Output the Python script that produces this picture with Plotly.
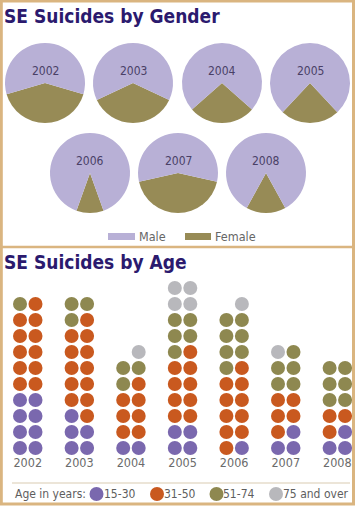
import plotly.graph_objects as go

W, H = 355, 506

# ---------------- data ----------------
years = ["2002", "2003", "2004", "2005", "2006", "2007", "2008"]
male_pct = [59, 64, 73, 76, 89, 57, 84]
female_pct = [41, 36, 27, 24, 11, 43, 16]

age_groups = ["15-30", "31-50", "51-74", "75 and over"]
# dots per column (left / right), counts per age group [15-30, 31-50, 51-74, 75+]
left_counts = [
    [4, 5, 1, 0],
    [3, 5, 2, 0],
    [1, 3, 2, 0],
    [2, 4, 3, 2],
    [0, 5, 4, 0],
    [1, 3, 2, 1],
    [1, 2, 3, 0],
]
right_counts = [
    [4, 6, 0, 0],
    [2, 7, 1, 0],
    [1, 4, 1, 1],
    [2, 5, 2, 2],
    [1, 5, 3, 1],
    [2, 2, 3, 0],
    [2, 1, 3, 0],
]

# ---------------- styles ----------------
male_color = "#b8b0d6"
female_color = "#978b56"
age_colors = ["#7a68ae", "#c9591f", "#8e8850", "#b8b8bc"]
title_color = "#2b1a6e"
frame_color = "#dab580"
narrow = "Liberation Sans Narrow, Arial Narrow, DejaVu Sans Condensed, sans-serif"


def px(x):
    return x / W


def py(y):
    return 1 - y / H


fig = go.Figure()

# ---------------- pies ----------------
pie_centers = [(45, 83), (133, 83), (222, 83), (310, 83),
               (90, 173), (178, 173), (266, 173)]
R = 40
annotations = []
for i, yr in enumerate(years):
    cx, cy = pie_centers[i]
    f = female_pct[i] / (female_pct[i] + male_pct[i])
    fig.add_trace(go.Pie(
        values=[female_pct[i], male_pct[i]],
        labels=["Female", "Male"],
        marker=dict(colors=[female_color, male_color], line=dict(width=0)),
        sort=False, direction="clockwise", rotation=180 - 180 * f,
        textinfo="none", hoverinfo="label+percent", showlegend=False,
        domain=dict(x=[px(cx - R), px(cx + R)], y=[py(cy + R), py(cy - R)]),
    ))
    annotations.append(dict(
        x=px(cx), y=py(cy - 12), xref="paper", yref="paper",
        text=yr, showarrow=False, xanchor="center", yanchor="middle",
        font=dict(family=narrow, size=12, color="#4a4066")))

# ---------------- dots ----------------
col_off = 0.15
for g, name in enumerate(age_groups):
    xs, ys = [], []
    for i in range(len(years)):
        for side, counts in ((-1, left_counts[i]), (1, right_counts[i])):
            start = sum(counts[:g])
            for r in range(start, start + counts[g]):
                xs.append(i + side * col_off)
                ys.append(r)
    fig.add_trace(go.Scatter(
        x=xs, y=ys, mode="markers", name=name, showlegend=False,
        marker=dict(size=14, color=age_colors[g], line=dict(width=0)),
        hovertemplate=name + "<extra></extra>",
        xaxis="x", yaxis="y", cliponaxis=False))

x_unit = 51.6
x_first = 27.75
y_unit = 16
y_bottom_px = 453
fig.update_layout(
    xaxis=dict(domain=[0, 1],
               range=[-x_first / x_unit, (W - x_first) / x_unit],
               tickmode="array", tickvals=list(range(len(years))), ticktext=years,
               ticks="", showgrid=False, zeroline=False, showline=False,
               tickfont=dict(family=narrow, size=12.5, color="#6b6b6b"),
               anchor="y", fixedrange=True),
    yaxis=dict(domain=[py(y_bottom_px), 1],
               range=[(448 - y_bottom_px) / y_unit, 448 / y_unit],
               showgrid=False, zeroline=False, showline=False,
               showticklabels=False, fixedrange=True),
)

# ---------------- titles ----------------
annotations.append(dict(x=px(2), y=py(3), xref="paper", yref="paper",
                        text="<b>SE Suicides by Gender</b>", showarrow=False,
                        xanchor="left", yanchor="top",
                        font=dict(family=narrow, size=19, color=title_color)))
annotations.append(dict(x=px(2), y=py(249), xref="paper", yref="paper",
                        text="<b>SE Suicides by Age</b>", showarrow=False,
                        xanchor="left", yanchor="top",
                        font=dict(family=narrow, size=19, color=title_color)))

shapes = []
# ---------------- gender legend ----------------
legend_font = dict(family=narrow, size=12.5, color="#666666")
shapes.append(dict(type="rect", xref="paper", yref="paper",
                   x0=px(108), x1=px(135), y0=py(240), y1=py(233),
                   fillcolor=male_color, line=dict(width=0)))
annotations.append(dict(x=px(137), y=py(237), xref="paper", yref="paper",
                        text="Male", showarrow=False, xanchor="left",
                        yanchor="middle", font=legend_font))
shapes.append(dict(type="rect", xref="paper", yref="paper",
                   x0=px(185), x1=px(211), y0=py(240), y1=py(233),
                   fillcolor=female_color, line=dict(width=0)))
annotations.append(dict(x=px(213), y=py(237), xref="paper", yref="paper",
                        text="Female", showarrow=False, xanchor="left",
                        yanchor="middle", font=legend_font))

# ---------------- age legend ----------------
shapes.append(dict(type="line", xref="paper", yref="paper",
                   x0=px(12), x1=px(350), y0=py(483), y1=py(483),
                   line=dict(color="#e6dccb", width=1.5)))
age_font = dict(family=narrow, size=12, color="#5e5e5e")
annotations.append(dict(x=px(13), y=py(494), xref="paper", yref="paper",
                        text="Age in years:", showarrow=False, xanchor="left",
                        yanchor="middle", font=age_font))
legend_dot_x = [96.5, 157, 216.5, 276]
for g, name in enumerate(age_groups):
    cx = legend_dot_x[g]
    shapes.append(dict(type="circle", xref="paper", yref="paper",
                       x0=px(cx - 7), x1=px(cx + 7), y0=py(501), y1=py(487),
                       fillcolor=age_colors[g], line=dict(width=0)))
    annotations.append(dict(x=px(cx + 5), y=py(494), xref="paper", yref="paper",
                            text=name, showarrow=False, xanchor="left",
                            yanchor="middle", font=age_font))

# ---------------- frame ----------------
shapes.append(dict(type="rect", xref="paper", yref="paper",
                   x0=px(1.3), x1=px(W - 1.5), y0=py(H - 2), y1=py(1),
                   line=dict(color=frame_color, width=3), layer="above"))
shapes.append(dict(type="line", xref="paper", yref="paper",
                   x0=0, x1=1, y0=py(247), y1=py(247),
                   line=dict(color=frame_color, width=2.5)))

fig.update_layout(
    width=W, height=H, margin=dict(l=0, r=0, t=0, b=0),
    paper_bgcolor="white", plot_bgcolor="rgba(0,0,0,0)",
    showlegend=False, annotations=annotations, shapes=shapes,
)

fig.write_html("out.html", config={"displayModeBar": False})
